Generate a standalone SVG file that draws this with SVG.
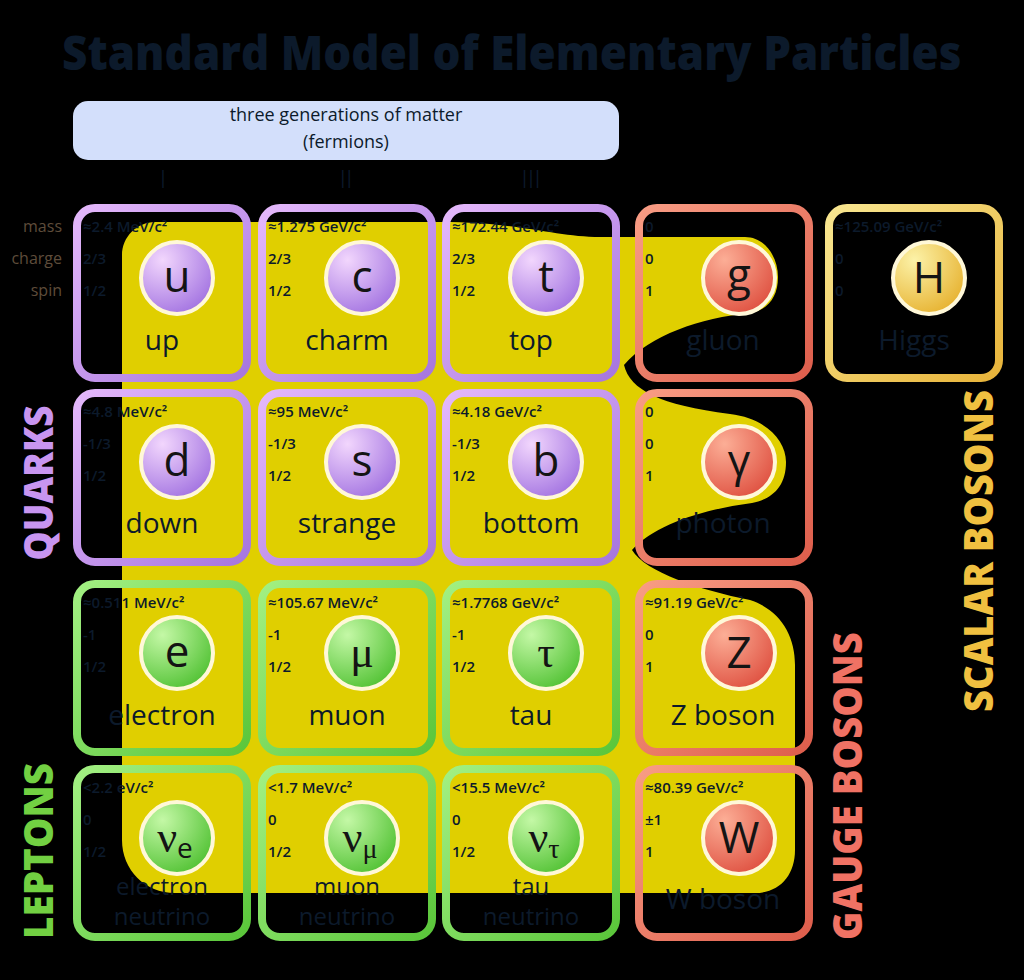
<svg xmlns="http://www.w3.org/2000/svg" width="1024" height="980" viewBox="0 0 1024 980">
<defs>
<style>
.t{font-family:"Open Sans","Noto Sans",sans-serif;fill:#0c1a2b}
.p{font-size:15px;font-weight:600}
.nm{font-size:28px;text-anchor:middle;font-weight:500}
.nm2{font-size:24px;text-anchor:middle;font-weight:500}
.sym{font-size:44px;text-anchor:middle;fill:#141414}
.gk{font-family:"Liberation Serif","DejaVu Serif",serif}
.lab{font-family:"Open Sans","Noto Sans",sans-serif;font-size:16px;fill:#5e4c3a;text-anchor:end;font-weight:500}
.side{font-family:"Open Sans","Noto Sans",sans-serif;font-weight:800;font-size:40px;text-anchor:middle}
.bq{fill:none;stroke:url(#sq);stroke-width:8}
.bl{fill:none;stroke:url(#sl);stroke-width:8}
.bg{fill:none;stroke:url(#sg);stroke-width:8}
.bh{fill:none;stroke:url(#sh);stroke-width:8}
.ring{stroke:#fff8d8;stroke-width:4}
</style>
<linearGradient id="sq" x1="0" y1="0" x2="1" y2="1"><stop offset="0" stop-color="#e4b8fb"/><stop offset="1" stop-color="#a676de"/></linearGradient>
<linearGradient id="sl" x1="0" y1="0" x2="1" y2="1"><stop offset="0" stop-color="#a2f082"/><stop offset="1" stop-color="#5ac63a"/></linearGradient>
<linearGradient id="sg" x1="0" y1="0" x2="1" y2="1"><stop offset="0" stop-color="#f89c84"/><stop offset="1" stop-color="#de5e4c"/></linearGradient>
<linearGradient id="sh" x1="0" y1="0" x2="1" y2="1"><stop offset="0" stop-color="#f8e690"/><stop offset="1" stop-color="#e8b43a"/></linearGradient>
<radialGradient id="cq" cx="0.3" cy="0.25" r="0.85"><stop offset="0" stop-color="#f2d6fd"/><stop offset="1" stop-color="#a070e0"/></radialGradient>
<radialGradient id="cl" cx="0.3" cy="0.25" r="0.85"><stop offset="0" stop-color="#c4f8a6"/><stop offset="1" stop-color="#4ec030"/></radialGradient>
<radialGradient id="cg" cx="0.3" cy="0.25" r="0.85"><stop offset="0" stop-color="#fcae96"/><stop offset="1" stop-color="#de4e3e"/></radialGradient>
<radialGradient id="ch" cx="0.3" cy="0.25" r="0.85"><stop offset="0" stop-color="#fcf2a8"/><stop offset="1" stop-color="#e6b02c"/></radialGradient>
</defs>
<rect x="0" y="0" width="1024" height="980" fill="#000"/>

<g id="title">
<text class="t" transform="translate(62,70) scale(0.82,1)" x="0" y="0" font-size="48" font-weight="800" fill="#0d1f33" textLength="1097" lengthAdjust="spacingAndGlyphs">Standard Model of Elementary Particles</text>
</g>

<g id="fermions-banner">
<rect x="73" y="101" width="546" height="59" rx="15" fill="#d3dffb"/>
<text class="t" x="346" y="121" font-size="18" text-anchor="middle" fill="#1a1a2a">three generations of matter</text>
<text class="t" x="346" y="148" font-size="18" text-anchor="middle" fill="#1a1a2a">(fermions)</text>
</g>

<g id="generations">
<text class="t" x="163" y="188" font-size="26" font-weight="300" text-anchor="middle">I</text>
<text class="t" x="346" y="188" font-size="26" font-weight="300" text-anchor="middle">II</text>
<text class="t" x="531" y="188" font-size="26" font-weight="300" text-anchor="middle">III</text>
</g>

<g id="interaction-region">
<path fill="#e0cf00" d="M155,222 L440,222 C520,222 555,237 600,237 L745,237 C765,237 778,257 778,277 C778,297 768,310 750,313 C700,318 650,335 624,365 C630,390 660,405 730,414 C765,418 786,440 786,462 C786,487 772,499 752,503 C700,510 655,525 632,550 C645,572 700,590 750,600 C780,610 795,635 795,665 L795,850 C795,875 780,893 755,893 L175,893 C145,893 122,870 122,840 L122,255 C122,237 137,222 155,222 Z"/>
</g>

<g id="property-labels">
<text class="lab" x="62" y="232">mass</text>
<text class="lab" x="62" y="264">charge</text>
<text class="lab" x="62" y="296">spin</text>
</g>

<g id="up">
<rect class="bq" x="77" y="208" width="170" height="170" rx="18"/>
<text class="t p" x="83" y="232">≈2.4 MeV/c²</text><text class="t p" x="83" y="264">2/3</text><text class="t p" x="83" y="296">1/2</text>
<circle class="ring" cx="177" cy="278" r="36" fill="url(#cq)"/>
<text class="t sym" x="177" y="292">u</text>
<text class="t nm" x="162" y="350">up</text>
</g>
<g id="charm">
<rect class="bq" x="262" y="208" width="170" height="170" rx="18"/>
<text class="t p" x="268" y="232">≈1.275 GeV/c²</text><text class="t p" x="268" y="264">2/3</text><text class="t p" x="268" y="296">1/2</text>
<circle class="ring" cx="362" cy="278" r="36" fill="url(#cq)"/>
<text class="t sym" x="362" y="292">c</text>
<text class="t nm" x="347" y="350">charm</text>
</g>
<g id="top">
<rect class="bq" x="446" y="208" width="170" height="170" rx="18"/>
<text class="t p" x="452" y="232">≈172.44 GeV/c²</text><text class="t p" x="452" y="264">2/3</text><text class="t p" x="452" y="296">1/2</text>
<circle class="ring" cx="546" cy="278" r="36" fill="url(#cq)"/>
<text class="t sym" x="546" y="292">t</text>
<text class="t nm" x="531" y="350">top</text>
</g>
<g id="gluon">
<rect class="bg" x="639" y="208" width="170" height="170" rx="18"/>
<text class="t p" x="645" y="232">0</text><text class="t p" x="645" y="264">0</text><text class="t p" x="645" y="296">1</text>
<circle class="ring" cx="739" cy="278" r="36" fill="url(#cg)"/>
<text class="t sym" x="739" y="290">g</text>
<text class="t nm" x="723" y="350">gluon</text>
</g>
<g id="higgs">
<rect class="bh" x="829" y="208" width="170" height="170" rx="18"/>
<text class="t p" x="835" y="232">≈125.09 GeV/c²</text><text class="t p" x="835" y="264">0</text><text class="t p" x="835" y="296">0</text>
<circle class="ring" cx="929" cy="278" r="36" fill="url(#ch)"/>
<text class="t sym" x="929" y="293">H</text>
<text class="t nm" x="914" y="350">Higgs</text>
</g>

<g id="down">
<rect class="bq" x="77" y="393" width="170" height="169" rx="18"/>
<text class="t p" x="83" y="417">≈4.8 MeV/c²</text><text class="t p" x="83" y="449">-1/3</text><text class="t p" x="83" y="481">1/2</text>
<circle class="ring" cx="177" cy="462" r="36" fill="url(#cq)"/>
<text class="t sym" x="177" y="476">d</text>
<text class="t nm" x="162" y="533">down</text>
</g>
<g id="strange">
<rect class="bq" x="262" y="393" width="170" height="169" rx="18"/>
<text class="t p" x="268" y="417">≈95 MeV/c²</text><text class="t p" x="268" y="449">-1/3</text><text class="t p" x="268" y="481">1/2</text>
<circle class="ring" cx="362" cy="462" r="36" fill="url(#cq)"/>
<text class="t sym" x="362" y="476">s</text>
<text class="t nm" x="347" y="533">strange</text>
</g>
<g id="bottom">
<rect class="bq" x="446" y="393" width="170" height="169" rx="18"/>
<text class="t p" x="452" y="417">≈4.18 GeV/c²</text><text class="t p" x="452" y="449">-1/3</text><text class="t p" x="452" y="481">1/2</text>
<circle class="ring" cx="546" cy="462" r="36" fill="url(#cq)"/>
<text class="t sym" x="546" y="476">b</text>
<text class="t nm" x="531" y="533">bottom</text>
</g>
<g id="photon">
<rect class="bg" x="639" y="393" width="170" height="169" rx="18"/>
<text class="t p" x="645" y="417">0</text><text class="t p" x="645" y="449">0</text><text class="t p" x="645" y="481">1</text>
<circle class="ring" cx="739" cy="462" r="36" fill="url(#cg)"/>
<text class="t sym" x="739" y="476">γ</text>
<text class="t nm" x="723" y="533">photon</text>
</g>

<g id="electron">
<rect class="bl" x="77" y="584" width="170" height="168" rx="18"/>
<text class="t p" x="83" y="608">≈0.511 MeV/c²</text><text class="t p" x="83" y="640">-1</text><text class="t p" x="83" y="672">1/2</text>
<circle class="ring" cx="177" cy="653" r="36" fill="url(#cl)"/>
<text class="t sym" x="177" y="667">e</text>
<text class="t nm" x="162" y="725">electron</text>
</g>
<g id="muon">
<rect class="bl" x="262" y="584" width="170" height="168" rx="18"/>
<text class="t p" x="268" y="608">≈105.67 MeV/c²</text><text class="t p" x="268" y="640">-1</text><text class="t p" x="268" y="672">1/2</text>
<circle class="ring" cx="362" cy="653" r="36" fill="url(#cl)"/>
<text class="t sym gk" x="362" y="667">μ</text>
<text class="t nm" x="347" y="725">muon</text>
</g>
<g id="tau">
<rect class="bl" x="446" y="584" width="170" height="168" rx="18"/>
<text class="t p" x="452" y="608">≈1.7768 GeV/c²</text><text class="t p" x="452" y="640">-1</text><text class="t p" x="452" y="672">1/2</text>
<circle class="ring" cx="546" cy="653" r="36" fill="url(#cl)"/>
<text class="t sym gk" x="546" y="667">τ</text>
<text class="t nm" x="531" y="725">tau</text>
</g>
<g id="z-boson">
<rect class="bg" x="639" y="584" width="170" height="168" rx="18"/>
<text class="t p" x="645" y="608">≈91.19 GeV/c²</text><text class="t p" x="645" y="640">0</text><text class="t p" x="645" y="672">1</text>
<circle class="ring" cx="739" cy="653" r="36" fill="url(#cg)"/>
<text class="t sym" x="739" y="668">Z</text>
<text class="t nm" x="723" y="725">Z boson</text>
</g>

<g id="electron-neutrino">
<rect class="bl" x="77" y="769" width="170" height="168" rx="18"/>
<text class="t p" x="83" y="793">&lt;2.2 eV/c²</text><text class="t p" x="83" y="825">0</text><text class="t p" x="83" y="857">1/2</text>
<circle class="ring" cx="177" cy="838" r="36" fill="url(#cl)"/>
<text class="t sym gk" x="175" y="852">ν<tspan font-size="28" dy="6" font-family="Open Sans, sans-serif">e</tspan></text>
<text class="t nm2" x="162" y="895">electron</text>
<text class="t nm2" x="162" y="925">neutrino</text>
</g>
<g id="muon-neutrino">
<rect class="bl" x="262" y="769" width="170" height="168" rx="18"/>
<text class="t p" x="268" y="793">&lt;1.7 MeV/c²</text><text class="t p" x="268" y="825">0</text><text class="t p" x="268" y="857">1/2</text>
<circle class="ring" cx="362" cy="838" r="36" fill="url(#cl)"/>
<text class="t sym gk" x="360" y="852">ν<tspan font-size="28" dy="6">μ</tspan></text>
<text class="t nm2" x="347" y="895">muon</text>
<text class="t nm2" x="347" y="925">neutrino</text>
</g>
<g id="tau-neutrino">
<rect class="bl" x="446" y="769" width="170" height="168" rx="18"/>
<text class="t p" x="452" y="793">&lt;15.5 MeV/c²</text><text class="t p" x="452" y="825">0</text><text class="t p" x="452" y="857">1/2</text>
<circle class="ring" cx="546" cy="838" r="36" fill="url(#cl)"/>
<text class="t sym gk" x="544" y="852">ν<tspan font-size="28" dy="6">τ</tspan></text>
<text class="t nm2" x="531" y="895">tau</text>
<text class="t nm2" x="531" y="925">neutrino</text>
</g>
<g id="w-boson">
<rect class="bg" x="639" y="769" width="170" height="168" rx="18"/>
<text class="t p" x="645" y="793">≈80.39 GeV/c²</text><text class="t p" x="645" y="825">±1</text><text class="t p" x="645" y="857">1</text>
<circle class="ring" cx="739" cy="838" r="36" fill="url(#cg)"/>
<text class="t sym" x="739" y="853">W</text>
<text class="t nm" x="723" y="909">W boson</text>
</g>

<g id="group-labels">
<text class="side" transform="translate(53,483) rotate(-90)" fill="#c895f0" textLength="155" lengthAdjust="spacingAndGlyphs">QUARKS</text>
<text class="side" transform="translate(53,851) rotate(-90)" fill="#72d042" textLength="176" lengthAdjust="spacingAndGlyphs">LEPTONS</text>
<text class="side" transform="translate(862,786) rotate(-90)" fill="#f07264" textLength="308" lengthAdjust="spacingAndGlyphs">GAUGE BOSONS</text>
<text class="side" transform="translate(993,551) rotate(-90)" fill="#f0c040" textLength="322" lengthAdjust="spacingAndGlyphs">SCALAR BOSONS</text>
</g>
</svg>
